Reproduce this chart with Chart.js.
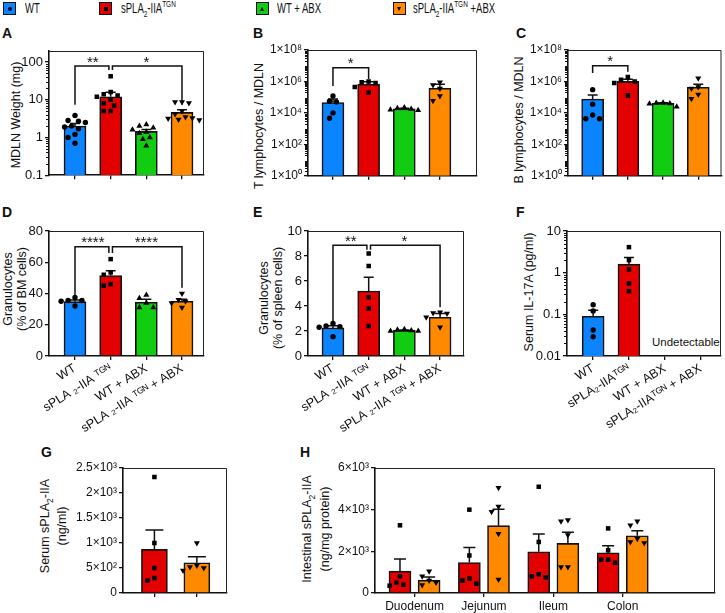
<!DOCTYPE html>
<html><head><meta charset="utf-8">
<script src="https://cdn.jsdelivr.net/npm/chart.js@4.4.1/dist/chart.umd.min.js"></script>
<style>
html,body{margin:0;padding:0;background:#fff}
#wrap{position:relative;width:725px;height:613px;overflow:hidden;font-family:"Liberation Sans",Arial,sans-serif;color:#111}
#wrap canvas{position:absolute}
.plab{position:absolute;font-weight:bold;font-size:14px;line-height:14px}
.ytitle{position:absolute;white-space:nowrap;text-align:center;font-size:12.5px;line-height:14px;transform:translate(-50%,-50%) rotate(-90deg)}
.sw{position:absolute;top:2px;width:11px;height:11px;border:1px solid #111}
.mk{position:absolute;left:3.5px;top:3.5px;width:4px;height:4px;background:#000}
.mk.c{border-radius:50%}
.mk.tu{width:0;height:0;background:none;left:3px;border-left:2.5px solid transparent;border-right:2.5px solid transparent;border-bottom:4.5px solid #000}
.mk.td{width:0;height:0;background:none;left:3px;border-left:2.5px solid transparent;border-right:2.5px solid transparent;border-top:4.5px solid #000}
.legtxt{position:absolute;top:0px;font-size:14px;line-height:16px;white-space:nowrap;transform:scaleX(0.68);transform-origin:0 0}
sub,sup{font-size:68%;line-height:0}
.note{position:absolute;font-size:11.5px;white-space:nowrap}
</style></head>
<body>
<div id="wrap">
  <div class="sw" style="left:3px;background:#0a84ff"><i class="mk c"></i></div>
  <div class="legtxt" style="left:25px">WT</div>
  <div class="sw" style="left:99px;background:#e30000"><i class="mk"></i></div>
  <div class="legtxt" style="left:121px">sPLA<sub>2</sub>-IIA<sup>TGN</sup></div>
  <div class="sw" style="left:256px;background:#11cc11"><i class="mk tu"></i></div>
  <div class="legtxt" style="left:277px">WT + ABX</div>
  <div class="sw" style="left:393px;background:#ff8a00"><i class="mk td"></i></div>
  <div class="legtxt" style="left:413px">sPLA<sub>2</sub>-IIA<sup>TGN</sup> +ABX</div>

  <div class="plab" style="left:2px;top:26px">A</div>
  <div class="plab" style="left:253px;top:26px">B</div>
  <div class="plab" style="left:516px;top:26px">C</div>
  <div class="plab" style="left:2px;top:205px">D</div>
  <div class="plab" style="left:253px;top:205px">E</div>
  <div class="plab" style="left:516px;top:205px">F</div>
  <div class="plab" style="left:41px;top:445px">G</div>
  <div class="plab" style="left:300px;top:445px">H</div>

  <div class="ytitle" style="left:15.5px;top:115px">MDLN Weight (mg)</div>
  <div class="ytitle" style="left:259px;top:126px">T lymphocytes / MDLN</div>
  <div class="ytitle" style="left:519px;top:120px">B lymphocytes / MDLN</div>
  <div class="ytitle" style="left:15px;top:289px">Granulocytes<br>(% of BM cells)</div>
  <div class="ytitle" style="left:270.5px;top:298px">Granulocytes<br>(% of spleen cells)</div>
  <div class="ytitle" style="left:529px;top:292px">Serum IL-17A (pg/ml)</div>
  <div class="ytitle" style="left:53.5px;top:526px;line-height:17px">Serum sPLA<sub>2</sub>-IIA<br>(ng/ml)</div>
  <div class="ytitle" style="left:315.5px;top:529px;line-height:18px">Intestinal sPLA<sub>2</sub>-IIA<br>(ng/mg protein)</div>
  <div class="note" style="left:652px;top:336px">Undetectable</div>
</div>
<script>
// ---------- DATA ----------
const groupLabels = ['WT', 'sPLA ₂-IIA ᵀᴳᴺ', 'WT + ABX', 'sPLA ₂-IIA ᵀᴳᴺ + ABX'];
const groupLabelsF = ['WT', 'sPLA₂-IIAᵀᴳᴺ', 'WT + ABX', 'sPLA₂-IIAᵀᴳᴺ + ABX'];
const groupColors = ['#0a84ff', '#e30000', '#11cc11', '#ff8a00'];

// A: MDLN weight (mg)
const mdlnPoints = [
  [3.8, 2.8, 2.7, 2.5, 2.0, 1.9, 1.7, 1.2, 1.0, 0.7],
  [42, 16, 14, 13, 12, 10, 8, 7, 5, 5],
  [2.2, 2.0, 1.8, 1.6, 1.4, 1.3, 1.0, 0.9, 0.6],
  [8.7, 8.7, 8.2, 5, 4.2, 3.5, 3.3, 3.2, 3.0, 2.9]
];
const mdlnMean = [2.0, 12, 1.45, 4.6];
const mdlnSem = [0.35, 3.8, 0.18, 0.8];
const mdlnTicks = [0.1, 1, 10, 100];
const mdlnTickLabels = ['0.1', '1', '10', '100'];

// B: T lymphocytes / MDLN
const tPoints = [
  [1.2e5, 5.5e4, 5e4, 1e4, 4.6e3],
  [1.0e6, 9e5, 8e5, 4.5e5, 2e5],
  [2.2e4, 2e4, 1.8e4, 1.6e4, 1.5e4],
  [9e5, 6e5, 3.5e5, 1.2e5, 6e4]
];
const tMean = [4.6e4, 6.7e5, 1.8e4, 3.7e5];
const tSem = [3e4, 3e5, 2e3, 2.9e5];

// C: B lymphocytes / MDLN
const bPoints = [
  [3e5, 3.6e4, 7.4e3, 4.2e3, 4.2e3],
  [1.9e6, 1.3e6, 1.0e6, 8e5, 1.3e5],
  [4.5e4, 4.2e4, 4e4, 3.8e4, 2.5e4],
  [1.6e6, 4.5e5, 3.5e5, 1.5e5, 8e4]
];
const bMean = [7.7e4, 1.0e6, 4.1e4, 4.3e5];
const bSem = [6e4, 4e5, 4e3, 2.3e5];
const lymphTicks = [1, 1e2, 1e4, 1e6, 1e8];
const lymphTickLabels = ['1×10⁰', '1×10²', '1×10⁴', '1×10⁶', '1×10⁸'];

// D: Granulocytes (% of BM cells)
const bmPoints = [
  [37.5, 35.5, 35.5, 35, 32],
  [62, 53.5, 52, 46, 45],
  [39, 37, 34, 31, 31],
  [40, 36, 35, 34, 31]
];
const bmMean = [34.8, 51.5, 34.4, 35];
const bmSem = [1, 3, 2, 1.4];
const bmTicks = [0, 20, 40, 60, 80];

// E: Granulocytes (% of spleen cells)
const spPoints = [
  [2.6, 2.4, 2.35, 2.3, 1.55],
  [8.2, 7.2, 4.7, 3.8, 2.4],
  [2.15, 2.1, 2.05, 2.0, 2.0],
  [3.5, 3.45, 3.4, 3.1, 2.3]
];
const spMean = [2.25, 5.2, 2.05, 3.1];
const spSem = [0.18, 1.1, 0.03, 0.3];
const spTicks = [0, 2, 4, 6, 8, 10];

// F: Serum IL-17A (pg/ml)
const ilPoints = [
  [0.17, 0.12, 0.042, 0.029],
  [4.1, 2.0, 1.2, 0.55, 0.36],
  [],
  []
];
const ilMean = [0.09, 1.6, null, null];
const ilSem = [0.035, 0.7, null, null];
const ilTicks = [0.01, 0.1, 1, 10];
const ilTickLabels = ['0.01', '0.1', '1', '10'];

// G: Serum sPLA2-IIA (ng/ml)  (groups: sPLA2-IIA TGN, sPLA2-IIA TGN + ABX)
const serumGroups = [1, 3];
const serumPoints = [
  [2320, 1000, 500, 300, 250],
  [1000, 550, 500, 450, 520]
];
const serumMean = [872, 603];
const serumSem = [390, 120];
const serumTicks = [0, 500, 1000, 1500, 2000, 2500];
const serumTickLabels = ['0', '5×10²', '1×10³', '1.5×10³', '2×10³', '2.5×10³'];

// H: Intestinal sPLA2-IIA (ng/mg protein)
const tissues = ['Duodenum', 'Jejunum', 'Ileum', 'Colon'];
const intTgnPoints = [
  [3250, 800, 500, 400, 350],
  [4000, 1800, 700, 600, 450],
  [5100, 2450, 900, 800, 750],
  [3100, 2050, 1600, 1600, 1450]
];
const intTgnMean = [1047, 1466, 1978, 1930];
const intTgnSem = [580, 720, 850, 340];
const intAbxPoints = [
  [1050, 800, 600, 500, 380],
  [5050, 4150, 3900, 2850, 650],
  [3500, 3450, 2780, 1250, 1250],
  [3450, 3250, 2600, 2450, 2400]
];
const intAbxMean = [612, 3232, 2381, 2750];
const intAbxSem = [160, 790, 530, 240];
const intTicks = [0, 2000, 4000, 6000];
const intTickLabels = ['0', '2×10³', '4×10³', '6×10³'];

// ---------- RENDERING ----------
Chart.defaults.font.family = "'Liberation Sans', Arial, sans-serif";
Chart.defaults.color = '#111';
const wrap = document.getElementById('wrap');
const MARK = [
  {style: 'circle', rot: 0, r: 2.7},
  {style: 'rect', rot: 0, r: 3.2},
  {style: 'triangle', rot: 0, r: 3.5},
  {style: 'triangle', rot: 180, r: 3.5}
];

function swarm(values, toPx, d) {
  const idx = values.map((_, i) => i).sort((a, b) => values[b] - values[a]);
  const placed = [], off = values.map(() => 0);
  idx.forEach(i => {
    const y = toPx(values[i]);
    for (let k = 0; k < 40; k++) {
      const c = k === 0 ? 0 : (k % 2 ? -1 : 1) * Math.ceil(k / 2) * d * 0.55;
      if (placed.every(q => Math.hypot(q.x - c, q.y - y) >= d)) { off[i] = c; placed.push({x: c, y}); break; }
    }
  });
  return off;
}

function groupBars(points, mean, sem, xs) {
  return mean.map((m, i) => ({x: xs[i], mean: m, sem: sem[i], color: groupColors[i], points: points[i], marker: MARK[i]}));
}

function makePanel(p) {
  const cv = document.createElement('canvas');
  cv.width = p.canvas.w; cv.height = p.canvas.h;
  Object.assign(cv.style, {left: p.canvas.x + 'px', top: p.canvas.y + 'px', width: p.canvas.w + 'px', height: p.canvas.h + 'px'});
  wrap.appendChild(cv);
  const A = p.area;
  const yW = A.l - p.canvas.x, padTop = A.t - p.canvas.y, padRight = p.canvas.x + p.canvas.w - A.r, xH = p.canvas.y + p.canvas.h - A.b;
  const H = A.b - A.t, W = A.r - A.l;
  const isLog = p.y.type === 'logarithmic';
  const L = Math.log10;
  const yToPx = v => isLog ? (L(v) - L(p.y.min)) / (L(p.y.max) - L(p.y.min)) * H : (v - p.y.min) / (p.y.max - p.y.min) * H;
  const pxPerX = W / (p.x.max - p.x.min);
  const shown = p.bars.filter(b => b.mean != null);
  const datasets = [{
    type: 'bar', data: shown.map(b => ({x: b.x, y: b.mean})),
    backgroundColor: shown.map(b => b.color), borderColor: '#111', borderWidth: 1.6,
    borderSkipped: 'bottom', barThickness: p.barWidth, order: 2
  }];
  p.bars.forEach(b => {
    if (!b.points || !b.points.length) return;
    const offs = swarm(b.points, yToPx, 6.3);
    datasets.push({
      type: 'scatter', data: b.points.map((v, i) => ({x: b.x + offs[i] / pxPerX, y: v})),
      pointStyle: b.marker.style, pointRotation: b.marker.rot, pointRadius: b.marker.r, pointHoverRadius: b.marker.r,
      pointBackgroundColor: '#000', pointBorderColor: '#000', pointBorderWidth: 0, order: 1
    });
  });
  const deco = {
    id: 'deco',
    afterDatasetDraw(chart, args) {
      if (args.meta.type !== 'bar') return;
      const ctx = chart.ctx, xs = chart.scales.x, ys = chart.scales.y;
      ctx.save(); ctx.strokeStyle = '#111'; ctx.lineWidth = 1.5;
      shown.forEach(b => {
        const x = xs.getPixelForValue(b.x), y0 = ys.getPixelForValue(b.mean), y1 = ys.getPixelForValue(b.mean + b.sem);
        ctx.beginPath(); ctx.moveTo(x, y0); ctx.lineTo(x, y1);
        ctx.moveTo(x - p.capW, y1); ctx.lineTo(x + p.capW, y1); ctx.stroke();
      });
      ctx.restore();
    },
    afterDraw(chart) {
      const ctx = chart.ctx, ca = chart.chartArea, xs = chart.scales.x, ys = chart.scales.y;
      ctx.save();
      ctx.strokeStyle = '#222'; ctx.lineWidth = 1;
      ctx.beginPath(); ctx.moveTo(ca.left, ca.top + 0.5); ctx.lineTo(ca.right - 0.5, ca.top + 0.5); ctx.lineTo(ca.right - 0.5, ca.bottom); ctx.stroke();
      if (isLog) {
        ctx.strokeStyle = '#111'; ctx.lineWidth = 1;
        ctx.beginPath();
        for (let k = Math.floor(L(p.y.min)); k <= Math.ceil(L(p.y.max)); k++) {
          for (let m = 2; m <= 9; m++) {
            const v = m * Math.pow(10, k);
            if (v <= p.y.min || v >= p.y.max) continue;
            const y = Math.round(ys.getPixelForValue(v)) + 0.5;
            ctx.moveTo(ca.left, y); ctx.lineTo(ca.left - 3, y);
          }
        }
        ctx.stroke();
      }
      (p.brackets || []).forEach(br => {
        const x0 = xs.getPixelForValue(br.x0), x1 = xs.getPixelForValue(br.x1);
        const yt = ys.getPixelForValue(br.top);
        ctx.strokeStyle = '#111'; ctx.lineWidth = 1.5;
        ctx.beginPath();
        ctx.moveTo(x0, ys.getPixelForValue(br.b0)); ctx.lineTo(x0, yt); ctx.lineTo(x1, yt); ctx.lineTo(x1, ys.getPixelForValue(br.b1));
        ctx.stroke();
        ctx.fillStyle = '#111'; ctx.font = "15px 'Liberation Sans', Arial"; ctx.textAlign = 'center'; ctx.textBaseline = 'alphabetic';
        ctx.fillText(br.label, xs.getPixelForValue(br.lx), yt + 0.5);
      });
      ctx.restore();
    }
  };
  new Chart(cv, {
    type: 'bar',
    data: {datasets},
    options: {
      responsive: false, animation: false, devicePixelRatio: 1,
      layout: {padding: {top: padTop, right: padRight, left: 0, bottom: 0}},
      plugins: {legend: {display: false}, tooltip: {enabled: false}},
      scales: {
        x: {
          type: 'linear', min: p.x.min, max: p.x.max, offset: false,
          afterBuildTicks: s => { s.ticks = p.x.ticks.map(v => ({value: v})); },
          afterFit: s => { s.height = xH; },
          ticks: {autoSkip: false, minRotation: p.x.rot || 0, maxRotation: p.x.rot || 0, padding: p.x.pad || 1,
                  font: {size: p.x.fontSize || 12}, color: '#111',
                  callback: (v, i) => p.x.labels ? p.x.labels[i] : ''},
          grid: {display: true, drawOnChartArea: false, drawTicks: true, tickLength: 4, color: '#111', lineWidth: 1.3, offset: false},
          border: {display: true, color: '#111', width: 1.6}
        },
        y: {
          type: p.y.type, min: p.y.min, max: p.y.max,
          afterBuildTicks: s => { s.ticks = p.y.ticks.map(v => ({value: v})); },
          afterFit: s => { s.width = yW; },
          ticks: {autoSkip: false, padding: 2, font: {size: p.y.fontSize || 12.5}, color: '#111',
                  callback: (v, i) => p.y.labels[i]},
          grid: {display: true, drawOnChartArea: false, drawTicks: true, tickLength: 4, color: '#111', lineWidth: 1.3},
          border: {display: true, color: '#111', width: 1.6}
        }
      }
    },
    plugins: [deco]
  });
}

const cat4 = [0, 1, 2, 3];

// A
makePanel({
  canvas: {x: 15, y: 40, w: 195, h: 145}, area: {l: 49, t: 51, r: 204, b: 176},
  x: {min: -0.729, max: 3.617, ticks: cat4, labels: null},
  y: {type: 'logarithmic', min: 0.1, max: 195, ticks: mdlnTicks, labels: mdlnTickLabels, fontSize: 13},
  bars: groupBars(mdlnPoints, mdlnMean, mdlnSem, cat4), barWidth: 22, capW: 5,
  brackets: [
    {x0: 0, x1: 0.95, top: 78, b0: 7.4, b1: 61, label: '**', lx: 0.5},
    {x0: 1.05, x1: 3, top: 78, b0: 61, b1: 7.4, label: '*', lx: 2}
  ]
});
// B
makePanel({
  canvas: {x: 266, y: 38, w: 216, h: 147}, area: {l: 308, t: 50, r: 477, b: 176},
  x: {min: -0.70, max: 4.04, ticks: cat4, labels: null},
  y: {type: 'logarithmic', min: 1, max: 1e8, ticks: lymphTicks, labels: lymphTickLabels, fontSize: 12},
  bars: groupBars(tPoints, tMean, tSem, cat4), barWidth: 22, capW: 5,
  brackets: [{x0: 0, x1: 1, top: 7.5e6, b0: 5.2e5, b1: 1.44e6, label: '*', lx: 0.5}]
});
// C
makePanel({
  canvas: {x: 525, y: 38, w: 200, h: 147}, area: {l: 568, t: 50, r: 724, b: 176},
  x: {min: -0.70, max: 3.66, ticks: cat4, labels: null},
  y: {type: 'logarithmic', min: 1, max: 1e8, ticks: lymphTicks, labels: lymphTickLabels, fontSize: 12},
  bars: groupBars(bPoints, bMean, bSem, cat4), barWidth: 22, capW: 5,
  brackets: [{x0: 0, x1: 1, top: 1e7, b0: 3.5e6, b1: 4.2e6, label: '*', lx: 0.5}]
});
// D
makePanel({
  canvas: {x: 15, y: 220, w: 195, h: 215}, area: {l: 49, t: 231, r: 204, b: 356},
  x: {min: -0.729, max: 3.617, ticks: cat4, labels: groupLabels, rot: 32, fontSize: 12.5},
  y: {type: 'linear', min: 0, max: 80, ticks: bmTicks, labels: bmTicks.map(String), fontSize: 13},
  bars: groupBars(bmPoints, bmMean, bmSem, cat4), barWidth: 22, capW: 5,
  brackets: [
    {x0: 0, x1: 0.95, top: 70, b0: 39, b1: 66, label: '****', lx: 0.5},
    {x0: 1.05, x1: 3, top: 70, b0: 66, b1: 43.7, label: '****', lx: 2}
  ]
});
// E
makePanel({
  canvas: {x: 266, y: 220, w: 204, h: 215}, area: {l: 308, t: 231, r: 464, b: 356},
  x: {min: -0.70, max: 3.67, ticks: cat4, labels: groupLabels, rot: 32, fontSize: 12.5},
  y: {type: 'linear', min: 0, max: 10, ticks: spTicks, labels: spTicks.map(String), fontSize: 13},
  bars: groupBars(spPoints, spMean, spSem, cat4), barWidth: 22, capW: 5,
  brackets: [
    {x0: 0, x1: 0.95, top: 8.86, b0: 2.8, b1: 8.5, label: '**', lx: 0.5},
    {x0: 1.05, x1: 3, top: 8.86, b0: 8.5, b1: 3.9, label: '*', lx: 2}
  ]
});
// F
makePanel({
  canvas: {x: 525, y: 220, w: 200, h: 215}, area: {l: 567, t: 231, r: 721, b: 356},
  x: {min: -0.73, max: 3.57, ticks: cat4, labels: groupLabelsF, rot: 32, fontSize: 12.5},
  y: {type: 'logarithmic', min: 0.01, max: 10, ticks: ilTicks, labels: ilTickLabels, fontSize: 13},
  bars: groupBars(ilPoints, ilMean, ilSem, cat4), barWidth: 22, capW: 5
});
// G
makePanel({
  canvas: {x: 60, y: 455, w: 172, h: 150}, area: {l: 123, t: 468, r: 227, b: 593},
  x: {min: -0.74, max: 1.71, ticks: [0, 1], labels: null},
  y: {type: 'linear', min: 0, max: 2500, ticks: serumTicks, labels: serumTickLabels, fontSize: 12},
  bars: serumMean.map((m, i) => ({x: i, mean: m, sem: serumSem[i], color: groupColors[serumGroups[i]], points: serumPoints[i], marker: MARK[serumGroups[i]]})),
  barWidth: 26, capW: 9
});
// H
const hBars = [];
tissues.forEach((t, g) => {
  hBars.push({x: g - 0.21, mean: intTgnMean[g], sem: intTgnSem[g], color: groupColors[1], points: intTgnPoints[g], marker: MARK[1]});
  hBars.push({x: g + 0.21, mean: intAbxMean[g], sem: intAbxSem[g], color: groupColors[3], points: intAbxPoints[g], marker: MARK[3]});
});
makePanel({
  canvas: {x: 330, y: 455, w: 395, h: 158}, area: {l: 375, t: 468, r: 715, b: 593},
  x: {min: -0.57, max: 4.33, ticks: cat4, labels: tissues, rot: 0, fontSize: 12, pad: 2},
  y: {type: 'linear', min: 0, max: 6000, ticks: intTicks, labels: intTickLabels, fontSize: 12},
  bars: hBars, barWidth: 22, capW: 6
});
</script>
</body></html>
